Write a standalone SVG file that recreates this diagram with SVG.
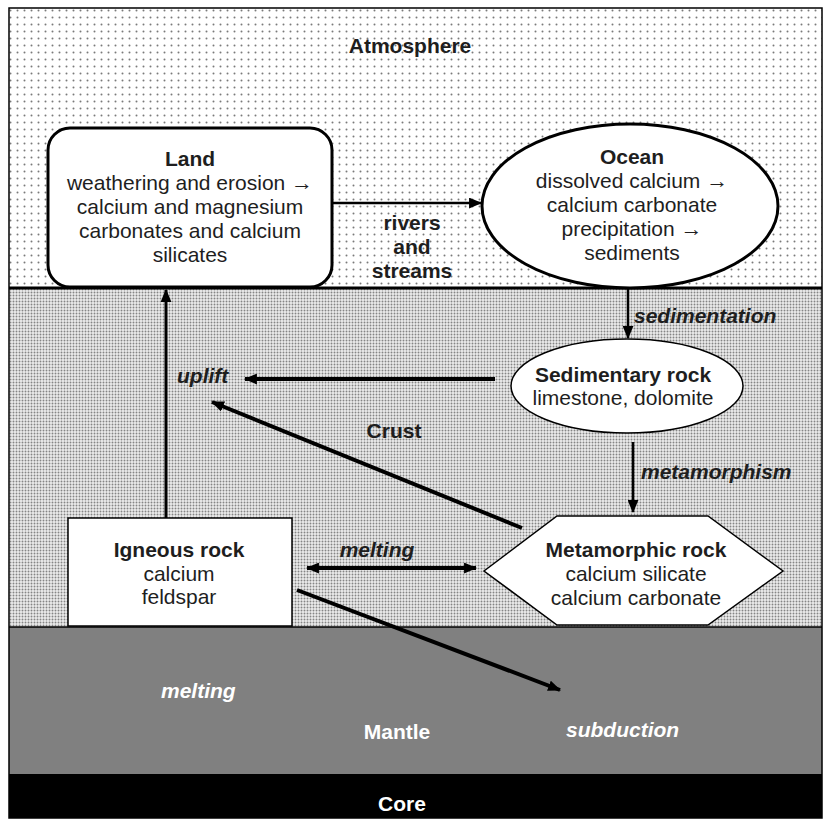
<svg xmlns="http://www.w3.org/2000/svg" width="824" height="825" viewBox="0 0 824 825">
<style>
text{font-family:"Liberation Sans",Arial,sans-serif;font-size:21px;fill:#1e1e1e;text-anchor:middle}
.b{font-weight:bold}
.bi{font-weight:bold;font-style:italic}
.l{text-anchor:start}
.w{fill:#ffffff}
.ar{font-family:"Liberation Serif","Times New Roman",serif;font-size:22px}
.node{fill:#ffffff;stroke:#000000}
.c{stroke:#000000;fill:none}
</style>
<defs>
<pattern id="atm" width="7" height="7" patternUnits="userSpaceOnUse">
<rect width="7" height="7" fill="#ffffff"/>
<circle cx="3.5" cy="3.5" r="1" fill="#7a7a7a"/>
</pattern>
<pattern id="crust" width="3" height="3" patternUnits="userSpaceOnUse">
<rect width="3" height="3" fill="#ececec"/>
<circle cx="1.5" cy="1.5" r="0.95" fill="#858585"/>
</pattern>
<marker id="ah" viewBox="0 0 12 10" refX="11" refY="5" markerWidth="13" markerHeight="11" markerUnits="userSpaceOnUse" orient="auto-start-reverse">
<path d="M0,0 L12,5 L0,10 z" fill="#000000"/>
</marker>
</defs>
<g id="background">
<rect x="9" y="8" width="813" height="280" fill="url(#atm)"/>
<rect x="9" y="288" width="813" height="339" fill="url(#crust)"/>
<rect x="9" y="627" width="813" height="147" fill="#808080"/>
<rect x="9" y="774" width="813" height="44" fill="#000000"/>
<rect x="9" y="8" width="813" height="810" fill="none" stroke="#000000" stroke-width="1.5"/>
<line x1="9" y1="288" x2="822" y2="288" stroke="#000000" stroke-width="3"/>
<line x1="9" y1="627" x2="822" y2="627" stroke="#000000" stroke-width="1.5"/>
<text class="b" x="410" y="53">Atmosphere</text>
<text class="b" x="394" y="438">Crust</text>
<text class="b w" x="397" y="739">Mantle</text>
<text class="b w" x="402" y="811">Core</text>
</g>
<g id="connectors">
<line class="c" x1="332" y1="203" x2="481" y2="203" stroke-width="2.5" marker-end="url(#ah)"/>
<line class="c" x1="628" y1="289" x2="628" y2="338" stroke-width="2.5" marker-end="url(#ah)"/>
<line class="c" x1="495" y1="379" x2="245" y2="379" stroke-width="4" marker-end="url(#ah)"/>
<line class="c" x1="522" y1="528" x2="212" y2="402" stroke-width="4" marker-end="url(#ah)"/>
<line class="c" x1="633" y1="442" x2="633" y2="512" stroke-width="2.5" marker-end="url(#ah)"/>
<line class="c" x1="166" y1="518" x2="166" y2="290" stroke-width="3" marker-end="url(#ah)"/>
<line class="c" x1="307" y1="568" x2="476" y2="568" stroke-width="4" marker-start="url(#ah)" marker-end="url(#ah)"/>
<line class="c" x1="297" y1="590" x2="560" y2="690" stroke-width="4" marker-end="url(#ah)"/>
<text class="b" x="412" y="230">rivers</text>
<text class="b" x="412" y="254">and</text>
<text class="b" x="412" y="278">streams</text>
<text class="bi l" x="634" y="323">sedimentation</text>
<text class="bi l" x="177" y="383">uplift</text>
<text class="bi l" x="641" y="479">metamorphism</text>
<text class="bi" x="377" y="557">melting</text>
<text class="bi l w" x="161" y="698">melting</text>
<text class="bi l w" x="566" y="737">subduction</text>
</g>
<g id="land">
<rect class="node" x="48" y="128" width="284" height="159" rx="22" ry="22" stroke-width="3"/>
<text class="b" x="190" y="166">Land</text>
<text x="190" y="190">weathering and erosion <tspan class="ar">→</tspan></text>
<text x="190" y="214">calcium and magnesium</text>
<text x="190" y="238">carbonates and calcium</text>
<text x="190" y="262">silicates</text>
</g>
<g id="ocean">
<ellipse class="node" cx="630" cy="206" rx="148" ry="82" stroke-width="3"/>
<text class="b" x="632" y="164">Ocean</text>
<text x="632" y="188">dissolved calcium <tspan class="ar">→</tspan></text>
<text x="632" y="212">calcium carbonate</text>
<text x="632" y="236">precipitation <tspan class="ar">→</tspan></text>
<text x="632" y="260">sediments</text>
</g>
<g id="sedimentary">
<ellipse class="node" cx="627" cy="386" rx="116" ry="47" stroke-width="1.5"/>
<text class="b" x="623" y="382">Sedimentary rock</text>
<text x="623" y="405">limestone, dolomite</text>
</g>
<g id="igneous">
<rect class="node" x="68" y="518" width="224" height="108" stroke-width="1.5"/>
<text class="b" x="179" y="557">Igneous rock</text>
<text x="179" y="581">calcium</text>
<text x="179" y="604">feldspar</text>
</g>
<g id="metamorphic">
<polygon class="node" points="484,571 557,516 708,516 783,571 708,625 557,625" stroke-width="1.5"/>
<text class="b" x="636" y="557">Metamorphic rock</text>
<text x="636" y="581">calcium silicate</text>
<text x="636" y="605">calcium carbonate</text>
</g>
</svg>
